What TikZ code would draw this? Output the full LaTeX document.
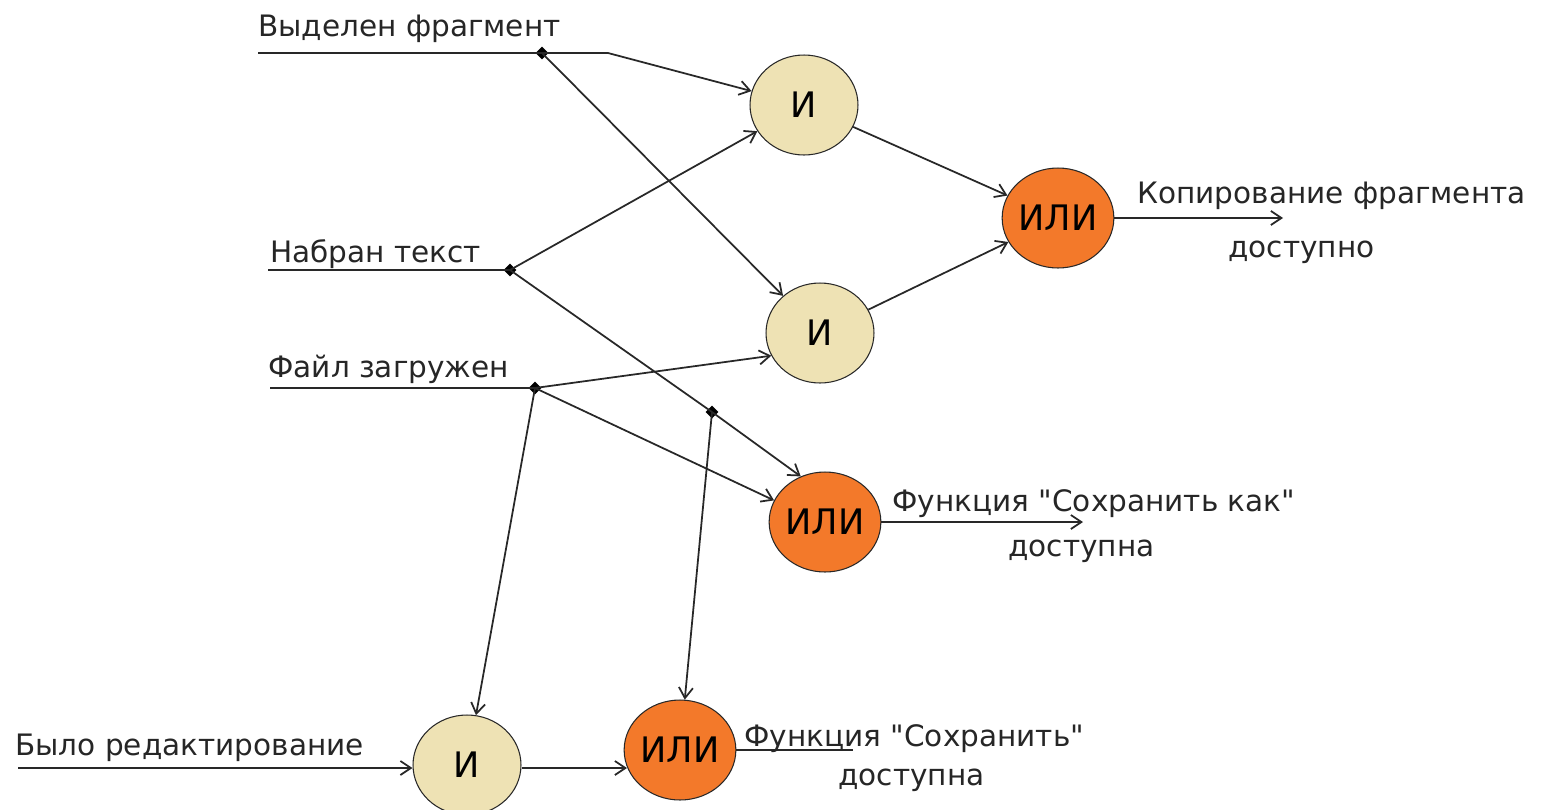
\documentclass[tikz,border=0pt]{standalone}
\usepackage{fontspec}
\setmainfont{DejaVu Sans}[Ligatures=TeXOff]
\usetikzlibrary{shapes.geometric,arrows.meta,calc}
\definecolor{beige}{RGB}{238,226,180}
\definecolor{orng}{RGB}{243,121,42}
\definecolor{ln}{RGB}{40,40,40}
\begin{document}
\begin{tikzpicture}[x=0.02cm,y=-0.02cm,
  gate/.style={ellipse,draw=ln,line width=0.6pt,minimum width=2.16cm,minimum height=2cm,inner sep=0pt,font=\fontsize{20}{24}\selectfont},
  andg/.style={gate,fill=beige},
  org/.style={gate,fill=orng},
  wire/.style={draw=ln,line width=1pt},
  arr/.style={wire,-{Straight Barb[length=6pt,width=8pt]}},
  lbl/.style={anchor=base west,inner sep=0pt,font=\fontsize{16.8}{20}\selectfont,text=black!85},
  dot/.style={diamond,fill=black,inner sep=0pt,minimum size=0.26cm}]
\useasboundingbox (0,0) rectangle (1542,809);
% gates
\node[andg] (and1) at (804,105) {И};
\node[org]  (or1)  at (1058,218) {ИЛИ};
\node[andg] (and2) at (820,333) {И};
\node[org]  (or2)  at (825,522) {ИЛИ};
\node[andg] (and3) at (467,765) {И};
\node[org]  (or3)  at (680,750) {ИЛИ};
% input A
\coordinate (inA) at (258,53);
\coordinate (bendA) at (608,53);
\node[dot] (dA) at (542,53) {};
\node[lbl] (tA) at (258,36) {Выделен фрагмент};
\draw[wire] (inA) -- (dA.center);
\draw[arr] (dA.center) -- (bendA) -- (and1);
\draw[arr] (dA.center) -- (and2);
% input B
\coordinate (inB) at (268,270);
\node[dot] (dB) at (510,270) {};
\node[dot] (dD) at (712,412) {};
\node[lbl] (tB) at (270,262) {Набран текст};
\draw[wire] (inB) -- (dB.center);
\draw[arr] (dB.center) -- (and1);
\draw[wire] (dB.center) -- (dD.center);
\draw[arr] (dD.center) -- (or2.118);
% input C
\coordinate (inC) at (270,388);
\node[dot] (dC) at (535,388) {};
\node[lbl] (tC) at (268,377) {Файл загружен};
\draw[wire] (inC) -- (dC.center);
\draw[arr] (dC.center) -- (and2.205);
\draw[arr] (dC.center) -- (or2.157);
\draw[arr] (dC.center) -- (and3);
\draw[arr] (dD.center) -- (or3);
% input E
\coordinate (inE) at (18,768);
\node[lbl] (tE) at (15,755) {Было редактирование};
\draw[arr] (inE) -- (and3.west |- inE);
\coordinate (or3in) at (627,768);
\draw[arr] (and3.east |- inE) -- (or3in);
% between gates
\draw[arr] (and1) -- (or1);
\draw[arr] (and2) -- (or1);
% outputs
\coordinate (o1) at (1283,218);
\draw[arr] (or1.east) -- (o1);
\node[lbl] (t1a) at (1137,203) {Копирование фрагмента};
\node[lbl] (t1b) at (1228,257) {доступно};
\coordinate (o2) at (1083,522);
\draw[arr] (or2.east) -- (o2);
\node[lbl] (t2a) at (892,511) {Функция "Сохранить как"};
\node[lbl] (t2b) at (1008,556) {доступна};
\coordinate (o3) at (853,750);
\draw[wire] (or3.east) -- (o3);
\node[lbl] (t3a) at (744,746) {Функция "Сохранить"};
\node[lbl] (t3b) at (838,785) {доступна};
\end{tikzpicture}
\end{document}
